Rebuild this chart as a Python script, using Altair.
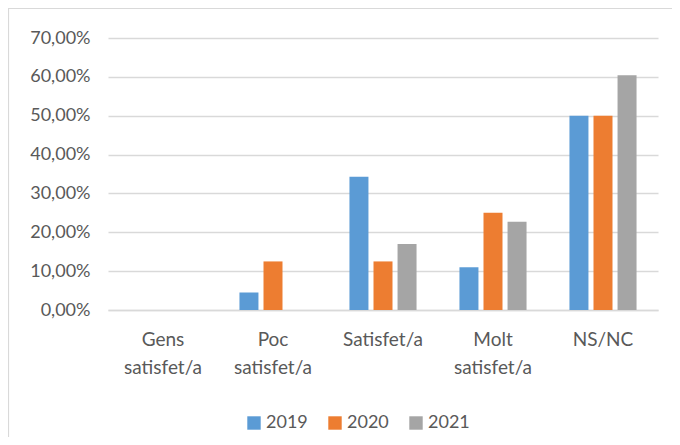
import altair as alt
import pandas as pd

categories = ["Gens satisfet/a", "Poc satisfet/a", "Satisfet/a", "Molt satisfet/a", "NS/NC"]
years = ["2019", "2020", "2021"]
values_2019 = [0.0, 0.045, 0.343, 0.110, 0.500]
values_2020 = [0.0, 0.125, 0.125, 0.250, 0.500]
values_2021 = [0.0, 0.0, 0.170, 0.227, 0.604]
colors = ["#5B9BD5", "#ED7D31", "#A5A5A5"]
y_ticks = [0, 0.1, 0.2, 0.3, 0.4, 0.5, 0.6, 0.7]

rows = []
for yr, vals in zip(years, [values_2019, values_2020, values_2021]):
    for c, v in zip(categories, vals):
        rows.append({"cat": c, "year": yr, "value": v})
df = pd.DataFrame(rows)

FONT = "Lato"
GREY_TXT = "#595959"

bars = alt.Chart(df).mark_bar().encode(
    x=alt.X("cat:N", sort=categories,
            scale=alt.Scale(paddingInner=0.39, paddingOuter=0.195),
            axis=alt.Axis(title=None, labelAngle=0, ticks=False, domain=True,
                          domainColor="#D9D9D9", domainWidth=1.5,
                          labelExpr="split(datum.label, ' ')",
                          labelFont=FONT, labelFontSize=19, labelColor=GREY_TXT,
                          labelPadding=20, labelLineHeight=28, labelBaseline="top")),
    xOffset=alt.XOffset("year:N", sort=years,
                        scale=alt.Scale(paddingInner=0.21, paddingOuter=0)),
    y=alt.Y("value:Q",
            scale=alt.Scale(domain=[0, 0.7], nice=False),
            axis=alt.Axis(title=None, values=y_ticks, ticks=False, domain=False,
                          grid=True, gridColor="#D9D9D9", gridWidth=1.5,
                          labelExpr="replace(format(datum.value, '.2%'), '.', ',')",
                          labelFont=FONT, labelFontSize=18, labelColor=GREY_TXT,
                          labelPadding=18)),
    color=alt.Color("year:N", sort=years,
                    scale=alt.Scale(domain=years, range=colors),
                    legend=alt.Legend(title=None, orient="none", direction="horizontal",
                                      legendX=137, legendY=376,
                                      symbolType="square", symbolSize=180,
                                      symbolStrokeWidth=0,
                                      labelFont=FONT, labelFontSize=18,
                                      labelColor=GREY_TXT, columnPadding=18,
                                      labelOffset=3, padding=0)),
)

border = alt.Chart(pd.DataFrame({"a": [0]})).mark_rect(
    fillOpacity=0, stroke="#D9D9D9", strokeWidth=1.2, clip=False
).encode(
    x=alt.value(-99.5), x2=alt.value(700), y=alt.value(-29.5), y2=alt.value(500)
)

chart = alt.layer(border, bars).properties(
    width=550, height=272,
    autosize=alt.AutoSizeParams(type="none"),
    padding={"left": 100, "top": 30, "right": 14, "bottom": 127},
).configure_view(stroke=None)

chart.save("out.html", embed_options={"renderer": "svg", "actions": False})
